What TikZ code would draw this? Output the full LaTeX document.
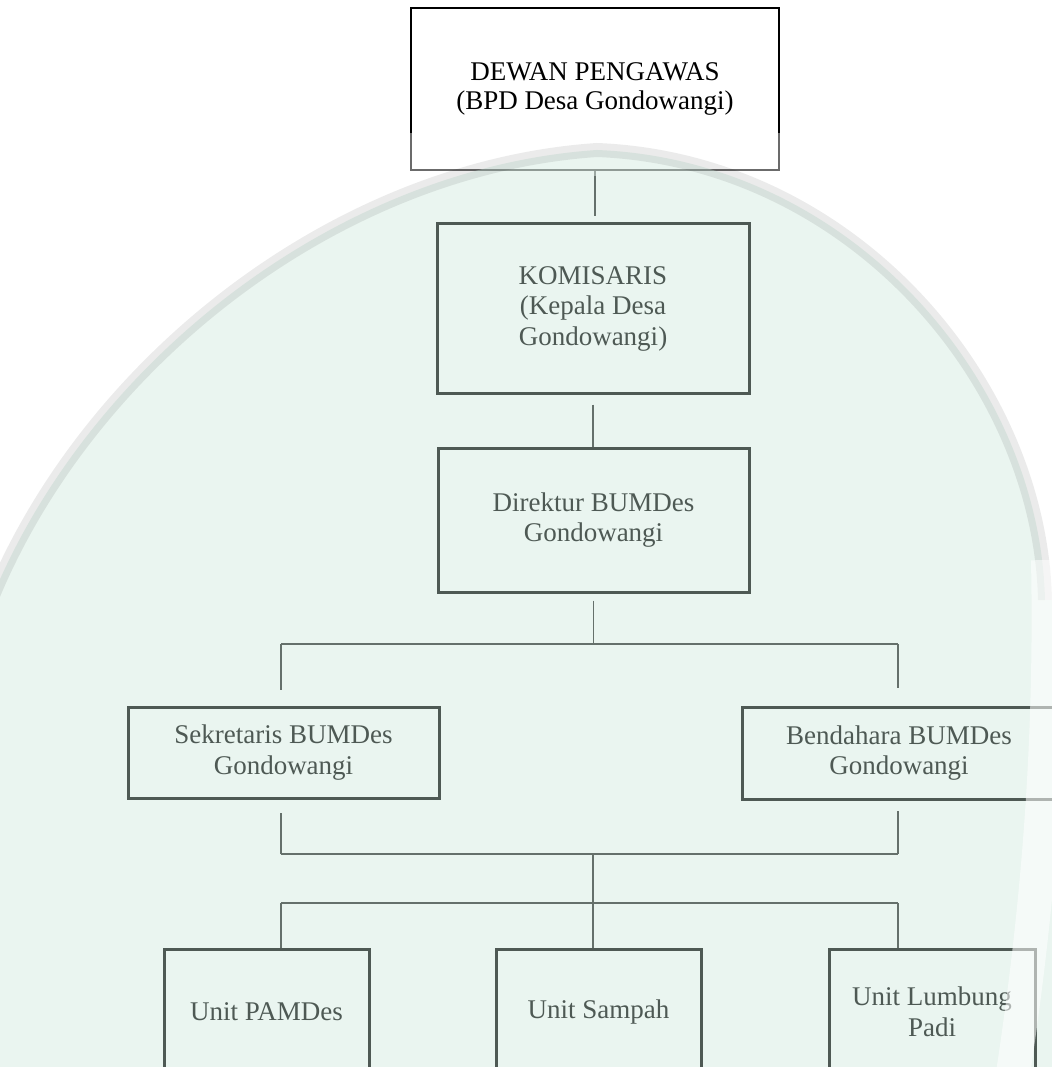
\documentclass[tikz,border=0pt]{standalone}
\usepackage{fontspec}
\setmainfont{Liberation Serif}
\definecolor{wmark}{RGB}{201,230,217}
\tikzset{
  orgbox/.style={draw=black, line width=3pt, rectangle, inner sep=0pt, align=center,
                 font=\fontsize{27}{30.5}\selectfont},
  topbox/.style={orgbox, line width=2.4pt, fill=white},
  boxtext/.style={inner sep=0pt, align=center, font=\fontsize{27}{29}\selectfont},
  conn/.style={draw=black!85, line width=1.5pt}
}
\begin{document}
\begin{tikzpicture}[x=1pt,y=-1pt]
\useasboundingbox (0,0) rectangle (1051,1067);
\fill[white] (0,0) rectangle (1051,1067);

% boxes
\node[topbox, minimum width=368pt, minimum height=162pt] (dewan) at (595,89) {};
\node[boxtext] (dewantxt) at (595,89)
  {DEWAN PENGAWAS\\(BPD Desa Gondowangi)};
\node[orgbox, minimum width=312pt, minimum height=169pt] (kom) at (593,308.5)
  {KOMISARIS\\(Kepala Desa\\Gondowangi)};
\node[orgbox, minimum width=311pt, minimum height=144pt] (dir) at (593.5,520)
  {Direktur BUMDes\\Gondowangi};
\node[orgbox, minimum width=311pt, minimum height=91pt] (sek) at (283.5,752.5)
  {Sekretaris BUMDes\\Gondowangi};
\node[orgbox, minimum width=314pt, minimum height=92pt] (ben) at (899,753)
  {Bendahara BUMDes\\Gondowangi};
\node[orgbox, minimum width=205pt, minimum height=126pt] (pam) at (266.5,1012)
  {Unit PAMDes};
\node[orgbox, minimum width=205pt, minimum height=126pt] (sam) at (598.5,1012)
  {Unit Sampah};
\node[orgbox, minimum width=206pt, minimum height=126pt] (lum) at (932,1012)
  {Unit Lumbung\\Padi};

% junction points
\coordinate (b1) at (593.5,644);
\coordinate (b1l) at (281,644);
\coordinate (b1r) at (898,644);
\coordinate (b2) at (593,854);
\coordinate (b2l) at (281,854);
\coordinate (b2r) at (898,854);
\coordinate (b3l) at (281,903);
\coordinate (b3r) at (898,903);

% connectors
\draw[conn, shorten >=6pt] (dewan.south) -- (dewan.south |- kom.north);
\draw[conn, shorten <=10pt] (kom.south) -- (kom.south |- dir.north);
\draw[conn, shorten <=7pt] (dir.south) -- (b1);
\draw[conn] (b1l) -- (b1r);
\draw[conn, shorten >=16pt] (b1l) -- (b1l |- sek.north);
\draw[conn, shorten >=18pt] (b1r) -- (b1r |- ben.north);
\draw[conn, shorten >=13pt] (b2l) -- (b2l |- sek.south);
\draw[conn, shorten >=10pt] (b2r) -- (b2r |- ben.south);
\draw[conn] (b2l) -- (b2r);
\draw[conn] (b2) -- (b2 |- sam.north);
\draw[conn] (b3l) -- (b3r);
\draw[conn] (b3l) -- (b3l |- pam.north);
\draw[conn] (b3r) -- (b3r |- lum.north);

% watermark: lightened lower band of the top box
\fill[white, fill opacity=0.42] (405,133) rectangle (786,176);
% watermark shield overlay
\fill[wmark, fill opacity=0.39]
  (-40,700) .. controls (20,420) and (300,170) .. (597,150)
  .. controls (850,160) and (1040,380) .. (1045,600)
  -- (1100,600) -- (1100,1100) -- (-40,1100) -- cycle;
\draw[black, draw opacity=0.08, line width=14pt]
  (-40,700) .. controls (20,420) and (300,170) .. (597,150)
  .. controls (850,160) and (1040,380) .. (1045,600);
\draw[white, draw opacity=0.55, line width=34pt]
  (1048,560) .. controls (1052,760) and (1035,930) .. (1012,1080);
\end{tikzpicture}
\end{document}
